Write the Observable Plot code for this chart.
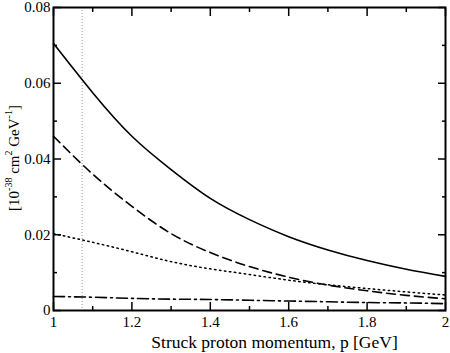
<!DOCTYPE html>
<html>
<head>
<meta charset="utf-8">
<script src="https://cdn.jsdelivr.net/npm/d3@7"></script>
<script src="https://cdn.jsdelivr.net/npm/@observablehq/plot@0.6"></script>
<style>
  html, body { margin: 0; padding: 0; background: #fff; }
  svg { font-family: "Liberation Serif", "DejaVu Serif", serif; }
</style>
</head>
<body>
<div id="chart"></div>
<script>
// Momentum grid (GeV)
const p = [1.0, 1.1, 1.2, 1.3, 1.4, 1.5, 1.6, 1.7, 1.8, 1.9, 2.0];
// Series values (10^-38 cm^2 GeV^-1)
const solidVals   = [0.0705, 0.0575, 0.0460, 0.0372, 0.0296, 0.0240, 0.0195, 0.0160, 0.0132, 0.0109, 0.0090];
const dashedVals  = [0.0460, 0.0360, 0.0275, 0.0203, 0.0153, 0.0116, 0.0088, 0.0067, 0.0052, 0.0040, 0.0031];
const dottedVals  = [0.0203, 0.0180, 0.0155, 0.0129, 0.0110, 0.0095, 0.0080, 0.0068, 0.0058, 0.0049, 0.0041];
const dashDotVals = [0.0037, 0.0035, 0.0032, 0.0030, 0.0029, 0.0027, 0.0025, 0.0023, 0.0021, 0.0020, 0.0018];
const markerP = [1.073];
// Ticks
const xMajor = [1, 1.2, 1.4, 1.6, 1.8, 2];
const xMinor = [1.1, 1.3, 1.5, 1.7, 1.9];
const yMajor = [0, 0.02, 0.04, 0.06, 0.08];
const yMinor = [0.01, 0.03, 0.05, 0.07];
const xLabel = "Struck proton momentum, p [GeV]";

const series = (vals) => p.map((x, i) => ({p: x, v: vals[i]}));
const fmtY = d => d === 0 ? "0" : d3.format(".2f")(d);
const fmtX = d => d3.format("~g")(d);

const chart = Plot.plot({
  width: 450,
  height: 353,
  marginLeft: 53,
  marginRight: 5,
  marginTop: 7,
  marginBottom: 43,
  style: {fontFamily: "'Liberation Serif', serif", fontSize: "15px", color: "#000", background: "#fff", overflow: "visible"},
  x: {domain: [1, 2]},
  y: {domain: [0, 0.08]},
  marks: [
    Plot.ruleX(markerP, {stroke: "#999", strokeWidth: 1, strokeDasharray: "1,2"}),
    Plot.line(series(solidVals), {x: "p", y: "v", curve: "natural", stroke: "#000", strokeWidth: 1.6}),
    Plot.line(series(dashedVals), {x: "p", y: "v", curve: "natural", stroke: "#000", strokeWidth: 1.6, strokeDasharray: "9,5"}),
    Plot.line(series(dottedVals), {x: "p", y: "v", curve: "natural", stroke: "#000", strokeWidth: 1.5, strokeDasharray: "1.5,3.5"}),
    Plot.line(series(dashDotVals), {x: "p", y: "v", curve: "natural", stroke: "#000", strokeWidth: 1.6, strokeDasharray: "11,4,2,4"}),
    // bottom axis
    Plot.axisX(xMajor, {anchor: "bottom", tickSize: -8, tickPadding: 14, tickFormat: fmtX, label: null, strokeWidth: 1.5}),
    Plot.axisX(xMinor, {anchor: "bottom", tickSize: -4, text: null, label: null, strokeWidth: 1.5}),
    // top axis
    Plot.axisX(xMajor, {anchor: "top", tickSize: -8, text: null, label: null, strokeWidth: 1.5}),
    Plot.axisX(xMinor, {anchor: "top", tickSize: -4, text: null, label: null, strokeWidth: 1.5}),
    // left axis
    Plot.axisY(yMajor, {anchor: "left", tickSize: -8, tickPadding: 11, tickFormat: fmtY, label: null, strokeWidth: 1.5}),
    Plot.axisY(yMinor, {anchor: "left", tickSize: -4, text: null, label: null, strokeWidth: 1.5}),
    // right axis
    Plot.axisY(yMajor, {anchor: "right", tickSize: -8, text: null, label: null, strokeWidth: 1.5}),
    Plot.axisY(yMinor, {anchor: "right", tickSize: -4, text: null, label: null, strokeWidth: 1.5}),
    Plot.frame({stroke: "#000", strokeWidth: 2}),
    Plot.text([xLabel], {frameAnchor: "bottom", dy: 37, dx: 25, fontSize: 17.5, fill: "#000"})
  ]
});

// Y-axis title with superscripts
const svg = d3.select(chart);
const t = svg.append("text")
  .attr("transform", "translate(19,158) rotate(-90)")
  .attr("text-anchor", "middle")
  .attr("font-size", 15)
  .attr("fill", "#000");
t.append("tspan").text("[10");
t.append("tspan").attr("font-size", 10).attr("dy", -7).text("-38");
t.append("tspan").attr("dy", 7).text(" cm");
t.append("tspan").attr("font-size", 10).attr("dy", -7).text("2");
t.append("tspan").attr("dy", 7).text(" GeV");
t.append("tspan").attr("font-size", 10).attr("dy", -7).text("-1");
t.append("tspan").attr("dy", 7).text("]");

document.getElementById("chart").appendChild(chart);
</script>
</body>
</html>
